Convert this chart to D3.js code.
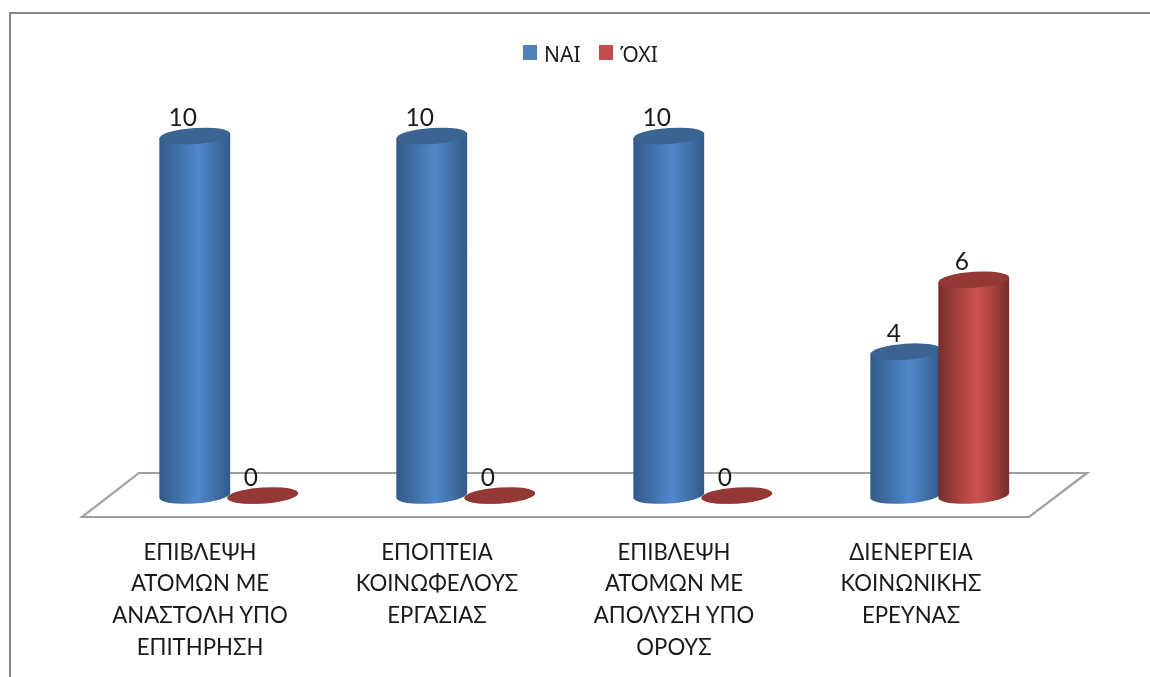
<!DOCTYPE html>
<html>
<head>
<meta charset="utf-8">
<script src="https://cdn.jsdelivr.net/npm/d3@7"></script>
<style>
  html, body { margin: 0; padding: 0; background: #fff; }
  svg { filter: blur(0.5px); }
  text { font-family: Lato, "Noto Sans", sans-serif; fill: #1a1a1a; }
</style>
</head>
<body>
<div id="chart"></div>
<script>
var categories = ["c1", "c2", "c3", "c4"];
var categoryLines = [
    ["ΕΠΙΒΛΕΨΗ", "ΑΤΟΜΩΝ ΜΕ", "ΑΝΑΣΤΟΛΗ ΥΠΟ", "ΕΠΙΤΗΡΗΣΗ"],
    ["ΕΠΟΠΤΕΙΑ", "ΚΟΙΝΩΦΕΛΟΥΣ", "ΕΡΓΑΣΙΑΣ"],
    ["ΕΠΙΒΛΕΨΗ", "ΑΤΟΜΩΝ ΜΕ", "ΑΠΟΛΥΣΗ ΥΠΟ", "ΟΡΟΥΣ"],
    ["ΔΙΕΝΕΡΓΕΙΑ", "ΚΟΙΝΩΝΙΚΗΣ", "ΕΡΕΥΝΑΣ"]
];
var seriesNames = ["ΝΑΙ", "ΌΧΙ"];
var yesValues = [10, 10, 10, 4];
var noValues = [0, 0, 0, 6];

var width = 1150,
    height = 677,
    rx = 35.5,
    ry = 8,
    tilt = -4;

var palette = {
    "ΝΑΙ": {edge: "#325a88", mid: "#5088cc", top: "#3c6493", swatch: "#4f81bd"},
    "ΌΧΙ": {edge: "#772e2c", mid: "#cf5451", top: "#943836", swatch: "#c0504d"}
};

var svg = d3.select("#chart").append("svg")
    .attr("width", width)
    .attr("height", height)
    .style("display", "block");

// chart frame, only the top and left edges are in the crop
svg.append("path")
    .attr("d", "M10,680V13H1155")
    .attr("fill", "none")
    .attr("stroke", "#868686")
    .attr("stroke-width", 2);

// gradients for the cylinder bodies
var defs = svg.append("defs");
seriesNames.forEach(function (name, i) {
    var g = defs.append("linearGradient").attr("id", "body" + i);
    g.append("stop").attr("offset", "0%").attr("stop-color", palette[name].edge);
    g.append("stop").attr("offset", "55%").attr("stop-color", palette[name].mid);
    g.append("stop").attr("offset", "100%").attr("stop-color", palette[name].edge);
});

var x0 = d3.scaleBand().domain(categories).range([110.5, 1058.5]),
    x1 = d3.scaleBand().domain(seriesNames).range([-68.5, 68.5]),
    y = d3.scaleLinear().domain([0, 10]).range([495.5, 136]);

// floor of the 3d plot
svg.append("path")
    .attr("d", "M82,517H1029L1087,473H139Z")
    .attr("fill", "#fff")
    .attr("stroke", "#a0a0a0")
    .attr("stroke-width", 2.2);

var rows = [];
categories.forEach(function (c, i) {
    rows.push({cat: c, name: seriesNames[0], idx: 0, value: yesValues[i]});
    rows.push({cat: c, name: seriesNames[1], idx: 1, value: noValues[i]});
});

var dx = rx * Math.cos(tilt * Math.PI / 180),
    dy = rx * Math.sin(tilt * Math.PI / 180);

function bodyPath(d) {
    var yb = y(0), yt = y(d.value);
    return "M" + (-dx) + "," + (yt - dy) +
        "L" + (-dx) + "," + (yb - dy) +
        "A" + rx + "," + ry + " " + tilt + " 0 0 " + dx + "," + (yb + dy) +
        "L" + dx + "," + (yt + dy) + "Z";
}

var bars = svg.selectAll(".bar")
    .data(rows)
    .enter().append("g")
    .attr("class", "bar")
    .attr("transform", function (d) {
        return "translate(" + (x0(d.cat) + x0.bandwidth() / 2 + x1(d.name) + x1.bandwidth() / 2 - (d.idx ? 0.5 : 0)) + ",0)";
    });

bars.append("path")
    .attr("d", bodyPath)
    .attr("fill", function (d) { return "url(#body" + d.idx + ")"; });

bars.append("ellipse")
    .attr("rx", rx)
    .attr("ry", ry)
    .attr("transform", function (d) {
        return "translate(0," + y(d.value) + ") rotate(" + tilt + ")";
    })
    .attr("fill", function (d) { return palette[d.name].top; });

bars.append("text")
    .attr("x", -12)
    .attr("y", function (d) { return y(d.value) - 10; })
    .attr("text-anchor", "middle")
    .style("font-size", "24.5px")
    .text(function (d) { return d.value; });

// category labels sit left of the groups because of the perspective
var axis = svg.append("g")
    .attr("transform", "translate(-29,529)")
    .call(d3.axisBottom(x0).tickSize(0).tickFormat(""));
axis.select(".domain").remove();

axis.selectAll(".tick text")
    .attr("y", 0)
    .attr("dy", null)
    .style("font-size", "22.2px")
    .style("font-family", null)
    .each(function (c, i) {
        d3.select(this).selectAll("tspan")
            .data(categoryLines[i])
            .enter().append("tspan")
            .attr("x", 0)
            .attr("y", function (l, j) { return 30.5 + j * 31.7; })
            .text(function (l) { return l; });
    });
axis.attr("font-family", null).attr("font-size", null);

// legend
var legendX = d3.scaleOrdinal().domain(seriesNames).range([523, 599]);
var legend = svg.selectAll(".legend")
    .data(seriesNames)
    .enter().append("g")
    .attr("class", "legend")
    .attr("transform", function (d) { return "translate(" + legendX(d) + ",45)"; });

legend.append("rect")
    .attr("width", 14)
    .attr("height", 15)
    .attr("fill", function (d) { return palette[d].swatch; });

legend.append("text")
    .attr("x", 21)
    .attr("y", 16.5)
    .style("font-family", "'Noto Sans', sans-serif")
    .style("font-size", "21px")
    .text(function (d) { return d; });
</script>
</body>
</html>
